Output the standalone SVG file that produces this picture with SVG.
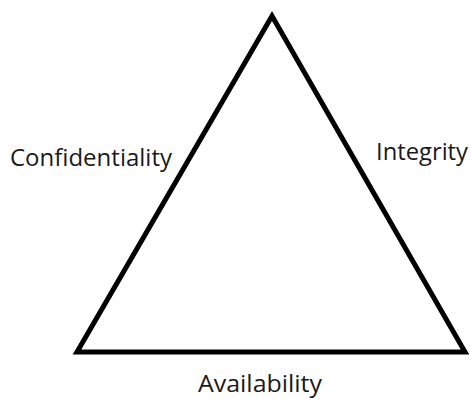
<svg xmlns="http://www.w3.org/2000/svg" width="470" height="399" viewBox="0 0 470 399">
<style>
.lbl{font-family:"Open Sans",Lato,"Liberation Sans",sans-serif;font-size:23px;fill:#1a1a1a}
.edge{fill:none;stroke:#000;stroke-width:5;stroke-linejoin:miter}
</style>
<rect width="470" height="399" fill="#fff"/>
<g id="connectors">
<polygon class="edge" points="272,16 77,352 465,352"/>
</g>
<g id="confidentiality"><text class="lbl" x="10" y="166" textLength="162" lengthAdjust="spacingAndGlyphs">Confidentiality</text></g>
<g id="integrity"><text class="lbl" x="376" y="160" textLength="92" lengthAdjust="spacingAndGlyphs">Integrity</text></g>
<g id="availability"><text class="lbl" x="198" y="392" textLength="124" lengthAdjust="spacingAndGlyphs">Availability</text></g>
</svg>
